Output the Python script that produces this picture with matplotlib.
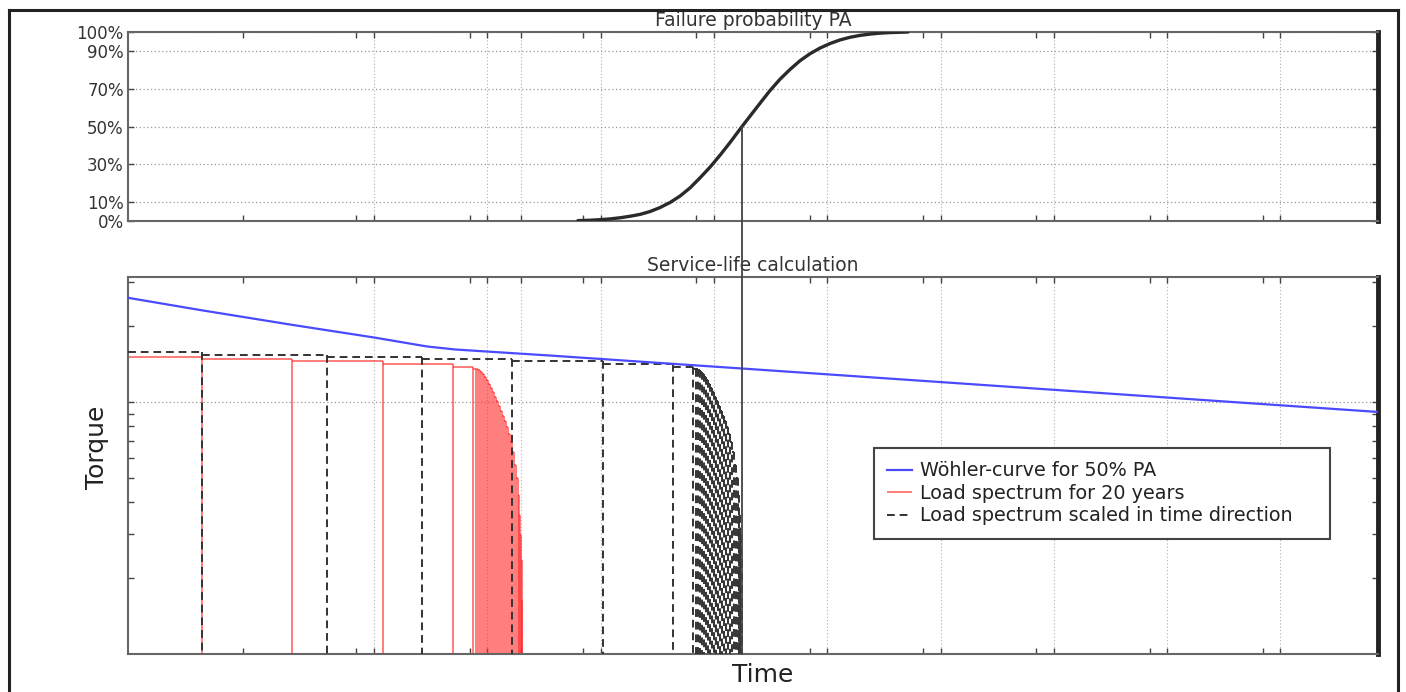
import numpy as np
import matplotlib
matplotlib.use("Agg")
import matplotlib.pyplot as plt
from matplotlib.patches import ConnectionPatch
from matplotlib.lines import Line2D
from matplotlib.ticker import FixedLocator, NullFormatter, LogLocator

# ---------------- data ----------------
# Failure probability PA over time (top panel); time given as log10(time)
pa_log10_time = [4.800, 4.906, 4.995, 5.083, 5.171, 5.259, 5.348, 5.436, 5.524,
                 5.613, 5.701, 5.789, 5.877, 5.966, 6.054, 6.142, 6.248, 6.319,
                 6.407, 6.495, 6.583, 6.672, 6.760, 6.848, 6.936, 7.025, 7.113,
                 7.201, 7.289, 7.378, 7.466, 7.554, 7.713]
pa_percent = [0.2, 0.4, 0.7, 1.1, 1.7, 2.5, 3.5, 5.0, 7.1, 9.8, 13.2, 17.5,
              22.8, 28.5, 34.8, 41.5, 50.0, 55.5, 62.3, 69.0, 75.0, 80.2, 84.8,
              88.5, 91.5, 93.9, 95.8, 97.2, 98.2, 98.9, 99.4, 99.7, 100.0]
pa50_time = 1.77e6

# Woehler curve for 50 % PA
woehler_time = [6.89, 29.1, 193, 1000, 2938, 5190, 9930, 35700, 1.77e6, 2.56e9, 7.26e11]
woehler_torque = [2587, 2318, 2021, 1803, 1661, 1616, 1586, 1529, 1358, 1086, 913]

# Load spectrum for 20 years: end time of each level and its torque
spectrum_start = 0.01
spectrum_end_time = [0.347, 4.40, 30.3, 189, 1200, 4980, 7480,
                     7943, 8279, 8630, 8974, 9354, 9750, 10140, 10570, 10990,
                     11460, 11940, 12420, 12940, 13490, 14030, 14620, 15240,
                     15850, 16520, 17220, 17910, 18490, 19050, 19500, 19820,
                     20140, 20370]
spectrum_torque = [1578, 1538, 1510, 1482, 1455, 1415, 1377,
                   1354, 1346, 1334, 1315, 1292, 1262, 1228, 1184, 1137,
                   1091, 1047, 1005, 964, 921, 880, 841, 796,
                   747, 694, 633, 562, 499, 428, 356, 297,
                   236, 164]
time_scale = 87.5   # scaling of the spectrum in time direction

pa_ticks = [0, 10, 30, 50, 70, 90, 100]
pa_ticklabels = ["0%", "10%", "30%", "50%", "70%", "90%", "100%"]
x_grid_ticks = [1e3, 1e4, 2e4, 1e5, 1e6, 1e7, 1e8, 1e9, 1e10, 1e11]
x_minor_ticks = [7e1, 7e2, 7e3, 7e4, 7e5, 7e6, 7e7, 7e8, 7e9, 7e10]

# ---------------- figure ----------------
W, H = 1406, 692
fig = plt.figure(figsize=(W / 100, H / 100), dpi=100)
fig.patch.set_facecolor("white")

xlim = (10 ** 0.829, 10 ** 11.861)
tcol = "#333333"


def px_rect(x0, y0, x1, y1):
    return [x0 / W, 1 - y1 / H, (x1 - x0) / W, (y1 - y0) / H]


ax1 = fig.add_axes(px_rect(128, 32, 1378, 221))
ax2 = fig.add_axes(px_rect(128, 277, 1378, 654))


def style_axes(ax):
    for side in ["left", "top", "bottom"]:
        ax.spines[side].set_color("#666666")
        ax.spines[side].set_linewidth(1.5)
    ax.spines["right"].set_color("#222222")
    ax.spines["right"].set_linewidth(3.5)
    ax.set_xscale("log")
    ax.set_xlim(*xlim)
    ax.xaxis.set_major_locator(FixedLocator(x_grid_ticks))
    ax.xaxis.set_minor_locator(FixedLocator(x_minor_ticks))
    ax.xaxis.set_major_formatter(NullFormatter())
    ax.xaxis.set_minor_formatter(NullFormatter())
    ax.tick_params(axis="both", which="both", direction="in", top=True,
                   right=True, length=4, width=1, color="#444444")
    ax.grid(True, axis="x", which="major", linestyle=(0, (1, 2)),
            color="#b0b0b0", linewidth=0.8)


# ---- top panel ----
style_axes(ax1)
ax1.set_ylim(0, 100)
ax1.set_yticks(pa_ticks)
ax1.set_yticklabels(pa_ticklabels, fontsize=12, color=tcol)
ax1.tick_params(axis="y", pad=3)
ax1.grid(True, axis="y", linestyle=(0, (1, 2)), color="#999999", linewidth=0.9)
ax1.plot(10 ** np.array(pa_log10_time), pa_percent, color="#2a2a2a",
         linewidth=2.4, zorder=3, solid_capstyle="round")
ax1.text(0.5, 1.0 + 12 / 189, "Failure probability PA", transform=ax1.transAxes,
         ha="center", va="center", fontsize=13.5, color=tcol)

# ---- bottom panel ----
style_axes(ax2)
ax2.set_yscale("log")
y_floor = 100
ax2.set_ylim(y_floor, 1000 * 10 ** (125 / 252))
ax2.yaxis.set_major_locator(FixedLocator([1000]))
ax2.yaxis.set_minor_locator(LogLocator(base=10, subs=np.arange(2, 10)))
ax2.yaxis.set_major_formatter(NullFormatter())
ax2.yaxis.set_minor_formatter(NullFormatter())
ax2.tick_params(axis="both", which="both", direction="in", top=True,
                right=True, length=4, width=1, color="#444444")
ax2.grid(True, axis="y", which="major", linestyle=(0, (1, 2)),
         color="#999999", linewidth=0.9)


def draw_spectrum(ax, scale, label, zorder, **style):
    ends = np.array(spectrum_end_time) * scale
    starts = np.concatenate([[spectrum_start * scale], ends[:-1]])
    lv = np.array(spectrum_torque)
    ax.hlines(lv, starts, ends, zorder=zorder, **style)
    # verticals drawn from the level down to the floor
    ax.vlines(ends, lv, y_floor, zorder=zorder, label=label, **style)


ax2.plot(woehler_time, woehler_torque, color="#4a4aff", linewidth=1.6, zorder=4,
         label="Wöhler-curve for 50% PA")
draw_spectrum(ax2, 1.0, "Load spectrum for 20 years", 2,
              colors="#ff2a2a", linewidths=1.2, alpha=0.72)
draw_spectrum(ax2, time_scale, "Load spectrum scaled in time direction", 3,
              colors="#333333", linewidths=1.4, linestyles=[(0, (4, 2.5))])

ax2.text(0.5, 1.0 + 12 / 377, "Service-life calculation", transform=ax2.transAxes,
         ha="center", va="center", fontsize=13.5, color=tcol)

leg = ax2.legend(loc="upper left", mode="expand",
                 bbox_to_anchor=((874 - 128) / 1250, (654 - 542) / 377,
                                 456 / 1250, 94 / 377),
                 fontsize=13.8, frameon=True, fancybox=False, framealpha=1,
                 edgecolor="#444444", borderaxespad=0, borderpad=0.7,
                 handlelength=1.3, handletextpad=0.4, labelspacing=0.18)
leg.get_frame().set_linewidth(1.5)
for t in leg.get_texts():
    t.set_color("#222222")

# vertical line from PA = 50 % down to the time axis
con = ConnectionPatch(xyA=(pa50_time, 50), coordsA=ax1.transData,
                      xyB=(pa50_time, y_floor), coordsB=ax2.transData,
                      color="#444444", linewidth=1.3, zorder=5)
fig.add_artist(con)

# axis labels
fig.text(97 / W, 1 - 447 / H, "Torque", rotation=90, ha="center", va="center",
         fontsize=18, color="#222222")
fig.text(763 / W, 1 - 675 / H, "Time", ha="center", va="center",
         fontsize=18, color="#222222")

# outer frame
for (x0, y0, x1, y1) in [(9, H, 9, 10), (9, 10, 1398, 10), (1398, 10, 1398, H)]:
    fig.add_artist(Line2D([x0 / W, x1 / W], [1 - y0 / H, 1 - y1 / H],
                          color="#222222", linewidth=2.2,
                          transform=fig.transFigure))

fig.savefig("out.png", dpi=100, facecolor="white")
